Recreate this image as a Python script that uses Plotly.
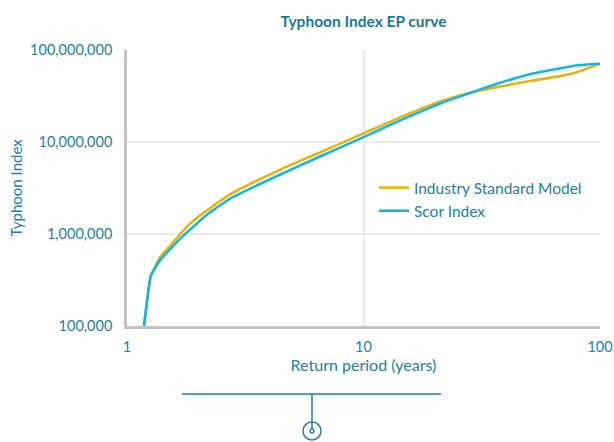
import plotly.graph_objects as go

# Data
return_periods = [1.18, 1.26, 1.38, 1.52, 1.68, 1.85, 2.24, 2.73, 3.65, 4.89, 6.55, 10,
                  14.3, 21.1, 28.2, 37.8, 50.6, 67.7, 80, 100]
industry_model = [1.0e5, 3.5e5, 5.6e5, 7.45e5, 1.0e6, 1.3e6, 1.9e6, 2.7e6, 3.95e6, 5.6e6,
                  7.7e6, 1.24e7, 1.85e7, 2.75e7, 3.42e7, 4.0e7, 4.6e7, 5.2e7, 5.74e7, 7.1e7]
scor_index = [1.0e5, 3.5e5, 5.2e5, 6.8e5, 8.9e5, 1.12e6, 1.71e6, 2.43e6, 3.5e6, 4.95e6,
              6.95e6, 1.13e7, 1.72e7, 2.62e7, 3.42e7, 4.4e7, 5.46e7, 6.3e7, 6.84e7, 7.1e7]

x_tickvals = [1, 10, 100]
x_ticktext = ["1", "10", "100"]
y_tickvals = [1e5, 1e6, 1e7, 1e8]
y_ticktext = ["100,000", "1,000,000", "10,000,000", "100,000,000"]

TEAL = "#1f7597"
TICK = "#2a7d9e"
FONT = "Lato"

fig = go.Figure()
fig.add_trace(go.Scatter(x=return_periods, y=industry_model, mode="lines",
                         name="Industry Standard Model",
                         line=dict(color="#e6b312", width=2.6, shape="spline", smoothing=0.3)))
fig.add_trace(go.Scatter(x=return_periods, y=scor_index, mode="lines",
                         name="Scor Index",
                         line=dict(color="#17b4e0", width=2.6, shape="spline", smoothing=0.3)))

W, H = 614, 442
PL, PR, PT, PB = 127, 600, 50, 326  # plot area in screen pixels
L, R, T, B = PL, W - PR, PT, H - PB

def px(xs):
    return (xs - PL) / (PR - PL)

def py(ys):
    return (PB - ys) / (PB - PT)

line_col = "#2a7d9e"
shapes = [
    dict(type="line", xref="paper", yref="paper", x0=px(182), x1=px(441), y0=py(394), y1=py(394),
         line=dict(color=line_col, width=1.5)),
    dict(type="line", xref="paper", yref="paper", x0=px(312), x1=px(312), y0=py(394), y1=py(429),
         line=dict(color=line_col, width=1.5)),
    dict(type="circle", xref="paper", yref="paper", x0=px(303), x1=px(321), y0=py(422), y1=py(440),
         line=dict(color=line_col, width=1.5)),
    dict(type="circle", xref="paper", yref="paper", x0=px(310), x1=px(314), y0=py(429), y1=py(433),
         line=dict(color=line_col, width=1.3)),
]

fig.update_layout(
    width=W, height=H,
    margin=dict(l=L, r=R, t=T, b=B, autoexpand=False),
    paper_bgcolor="white", plot_bgcolor="white",
    font=dict(family=FONT, color=TICK, size=13),
    title=dict(text="<b>Typhoon Index EP curve</b>", x=px(363.5), xref="paper", xanchor="center",
               y=1 - 22 / H, yanchor="middle", font=dict(size=15.5, color=TEAL, family=FONT)),
    showlegend=True,
    legend=dict(x=px(374), y=py(171), xanchor="left", yanchor="top",
                bgcolor="rgba(0,0,0,0)", font=dict(size=15.5, color=TICK, family=FONT),
                itemwidth=30, tracegroupgap=0),
    shapes=shapes,
)
fig.update_xaxes(type="log", range=[0, 2], tickvals=x_tickvals, ticktext=x_ticktext,
                 showgrid=True, gridcolor="#ebebeb", gridwidth=2,
                 showline=True, linecolor="#c4c4c4", linewidth=2.5,
                 ticks="", zeroline=False, automargin=False, ticklabelstandoff=6,
                 title=dict(text="Return period (years)", font=dict(size=16, color=TICK), standoff=3),
                 tickfont=dict(size=14.5, color=TICK))
fig.update_yaxes(type="log", range=[5, 8], tickvals=y_tickvals, ticktext=y_ticktext,
                 showgrid=True, gridcolor="#ebebeb", gridwidth=2,
                 showline=True, linecolor="#c4c4c4", linewidth=2.5,
                 ticks="", zeroline=False, automargin=False, ticklabelstandoff=9,
                 title=dict(text="Typhoon Index", font=dict(size=15, color=TICK), standoff=4),
                 tickfont=dict(size=14.5, color=TICK))

fig.write_html("out.html",
               config={"displayModeBar": False},
               post_script="document.body.style.margin='0';document.body.style.overflow='hidden';")
